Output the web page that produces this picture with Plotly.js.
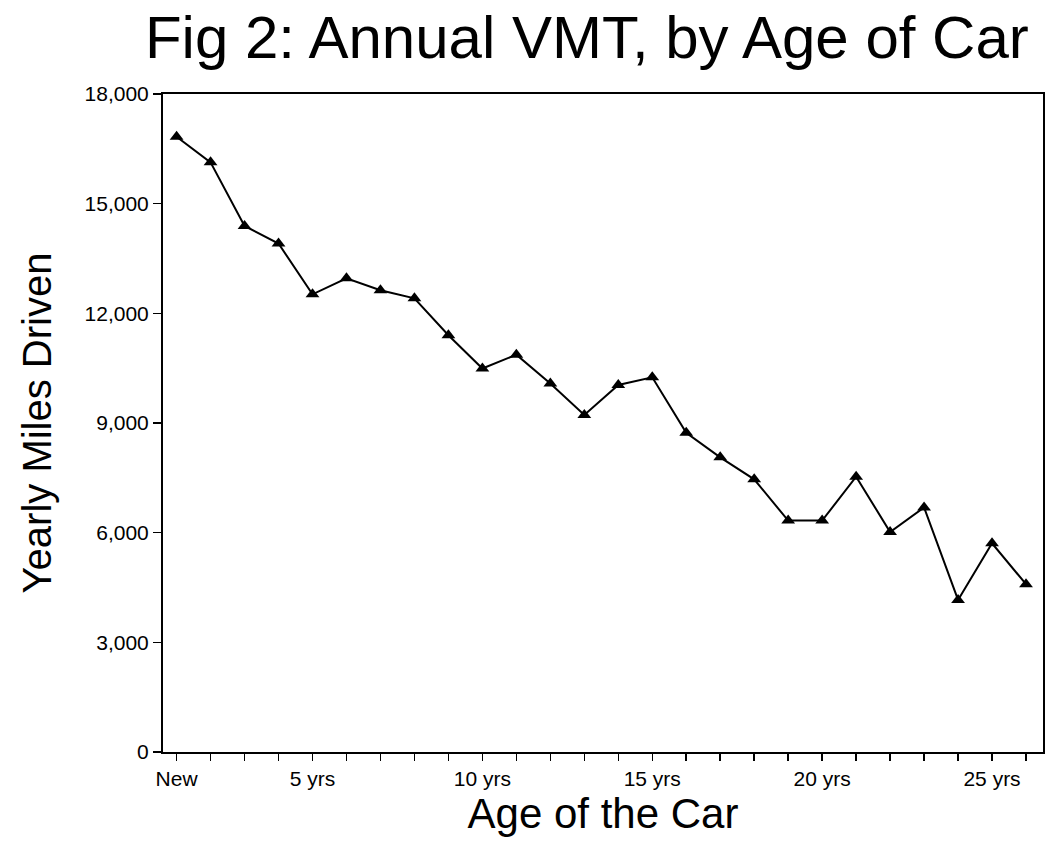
<!DOCTYPE html>
<html>
<head>
<meta charset="utf-8">
<script src="https://cdn.plot.ly/plotly-3.0.1.min.js"></script>
<style>html,body{margin:0;padding:0;background:#fff;}#chart{width:1048px;height:844px;}</style>
</head>
<body>
<div id="chart"></div>
<script>
// Age of car (1 = New) and yearly miles driven
const ages = [1,2,3,4,5,6,7,8,9,10,11,12,13,14,15,16,17,18,19,20,21,22,23,24,25,26];
const miles = [16830,16130,14390,13910,12520,12960,12630,12410,11400,10490,10870,10080,9220,10040,10250,8730,8060,7460,6330,6330,7530,6020,6690,4160,5710,4590];
const xTickLabels = ['New','','','','5 yrs','','','','','10 yrs','','','','','15 yrs','','','','','20 yrs','','','','','25 yrs',''];
const yTicks = [0,3000,6000,9000,12000,15000,18000];

const FONT = 'Liberation Sans, Arial, Helvetica, sans-serif';

const trace = {
  x: ages,
  y: miles,
  type: 'scatter',
  mode: 'lines+markers',
  line: {color: '#000', width: 2},
  marker: {symbol: 'triangle-up', size: 12, color: '#000'},
  hoverinfo: 'x+y'
};

const layout = {
  width: 1048,
  height: 844,
  paper_bgcolor: '#fff',
  plot_bgcolor: '#fff',
  showlegend: false,
  margin: {l: 163, r: 5, t: 94, b: 92},
  font: {family: FONT, color: '#000'},
  title: {
    text: 'Fig 2: Annual VMT, by Age of Car',
    font: {family: FONT, size: 60, color: '#000'},
    x: 0.56, xanchor: 'center',
    y: 0.956, yanchor: 'middle'
  },
  xaxis: {
    range: [0.6, 26.5],
    tickmode: 'array',
    tickvals: ages,
    ticktext: xTickLabels,
    ticks: 'outside',
    ticklen: 7,
    tickwidth: 1.5,
    tickcolor: '#000',
    tickfont: {family: FONT, size: 21, color: '#000'},
    showgrid: false,
    zeroline: false,
    showline: true,
    linecolor: '#000',
    linewidth: 2,
    mirror: true,
    title: {text: 'Age of the Car', font: {family: FONT, size: 42, color: '#000'}, standoff: 8}
  },
  yaxis: {
    range: [0, 18000],
    tickmode: 'array',
    tickvals: yTicks,
    tickformat: ',d',
    ticks: 'outside',
    ticklen: 8,
    tickwidth: 1.5,
    tickcolor: '#000',
    tickfont: {family: FONT, size: 21, color: '#000'},
    showgrid: false,
    zeroline: false,
    showline: true,
    linecolor: '#000',
    linewidth: 2,
    mirror: true,
    title: {text: 'Yearly Miles Driven', font: {family: FONT, size: 40, color: '#000'}, standoff: 21}
  }
};

Plotly.newPlot('chart', [trace], layout, {displayModeBar: false, staticPlot: true});
</script>
</body>
</html>
